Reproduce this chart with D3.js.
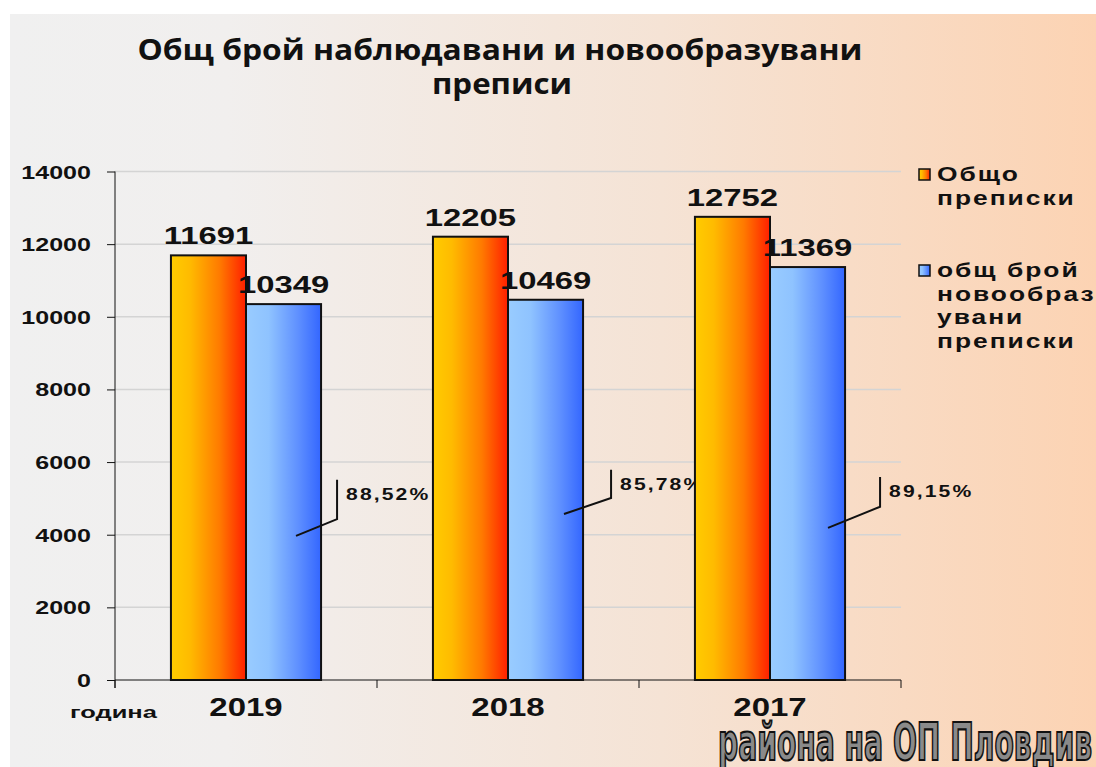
<!DOCTYPE html>
<html>
<head>
<meta charset="utf-8">
<script src="https://cdn.jsdelivr.net/npm/d3@7"></script>
<style>
  body { margin: 0; background: #fff; }
  svg { display: block; }
  text { font-family: "Liberation Sans", Arial, sans-serif; font-weight: bold; fill: #111; }
</style>
</head>
<body>
<svg width="1096" height="767"></svg>
<script>
// chart data
var years = ["2019", "2018", "2017"];
var seriesNames = ["Общо преписки", "общ брой новообразувани преписки"];
var totalFiles = [11691, 12205, 12752];
var newFiles = [10349, 10469, 11369];
var shares = ["88,52%", "85,78%", "89,15%"];
var yTicks = [0, 2000, 4000, 6000, 8000, 10000, 12000, 14000];

// callout placement (x offsets from the blue bar, y in value units)
var callout = [
    { sx: 50, sy: 3970, ex: 16, ey: 4430, ty: 5510, by: 4960 },
    { sx: 56, sy: 4570, ex: 28, ey: 5010, ty: 5790, by: 5230 },
    { sx: 58, sy: 4190, ex: 35, ey: 4770, ty: 5590, by: 5040 }
];

var svg = d3.select("svg");
var defs = svg.append("defs");
var stretch = 1.32; // the original text is drawn wide

function grad(id, stops) {
    var g = defs.append("linearGradient").attr("id", id)
        .attr("x1", "0%").attr("x2", "100%").attr("y1", "0%").attr("y2", "0%");
    stops.forEach(function (s) {
        g.append("stop").attr("offset", s[0]).attr("stop-color", s[1]);
    });
}
grad("bg", [["0%", "#f0f0f0"], ["20%", "#f1efee"], ["60%", "#f5e3d5"], ["100%", "#fcd3b3"]]);
grad("orange", [["0%", "#ffcc00"], ["25%", "#ffbb00"], ["65%", "#ff7a00"], ["100%", "#ff1f00"]]);
grad("blue", [["0%", "#99ccff"], ["30%", "#8fc3ff"], ["70%", "#5e8fff"], ["100%", "#3366ff"]]);

// wide text helper
function wtext(g, x, y, str, size, anchor, sx) {
    return g.append("text")
        .attr("transform", "translate(" + x + "," + y + ") scale(" + (sx || stretch) + ",1)")
        .attr("text-anchor", anchor || "start")
        .style("font-size", size + "px")
        .text(str);
}

svg.append("rect")
    .attr("x", 10).attr("y", 14)
    .attr("width", 1086).attr("height", 753)
    .attr("fill", "url(#bg)");

// title
svg.append("text")
    .attr("x", 500).attr("y", 60)
    .attr("text-anchor", "middle")
    .attr("textLength", 725).attr("lengthAdjust", "spacingAndGlyphs")
    .style("font-family", "'Open Sans', 'Noto Sans', sans-serif")
    .style("font-size", "29px")
    .text("Общ брой наблюдавани  и новообразувани");
svg.append("text")
    .attr("x", 502).attr("y", 94)
    .attr("text-anchor", "middle")
    .attr("textLength", 140).attr("lengthAdjust", "spacingAndGlyphs")
    .style("font-family", "'Open Sans', 'Noto Sans', sans-serif")
    .style("font-size", "29px")
    .text("преписи");

// scales
var plotL = 115, plotR = 901, plotT = 171.5, plotB = 680;
var y = d3.scaleLinear().domain([0, 14000]).range([plotB, plotT]);
var x0 = d3.scaleBand().domain(years).range([plotL, plotR])
    .paddingInner(0.427).paddingOuter(0.2135);
var x1 = d3.scaleBand().domain(seriesNames).range([0, x0.bandwidth()]);

var plot = svg.append("g");

// grid lines
plot.selectAll(".grid")
    .data(yTicks.filter(function (d) { return d > 0; }))
    .enter().append("line")
    .attr("x1", plotL).attr("x2", plotR)
    .attr("y1", function (d) { return y(d); })
    .attr("y2", function (d) { return y(d); })
    .attr("stroke", "#d4d4d4")
    .attr("stroke-width", 1.5);

// y axis
var yAxis = d3.axisLeft(y).tickValues(yTicks).tickSize(8).tickFormat("");
var ya = plot.append("g").attr("transform", "translate(" + plotL + ",0)").call(yAxis);
ya.select(".domain").attr("stroke", "#111").attr("d", "M0," + plotT + "V" + (plotB + 8));
ya.selectAll(".tick line").attr("stroke", "#111");
yTicks.forEach(function (t) {
    wtext(plot, 91, y(t) + 7, String(t), 19, "end");
});

// x axis with ticks at band edges
plot.append("line")
    .attr("x1", plotL).attr("x2", plotR)
    .attr("y1", plotB).attr("y2", plotB)
    .attr("stroke", "#111");
d3.range(years.length + 1).forEach(function (i) {
    var xx = plotL + i * x0.step();
    plot.append("line")
        .attr("x1", xx).attr("x2", xx)
        .attr("y1", plotB).attr("y2", plotB + 8)
        .attr("stroke", "#111");
});

// bars
var rows = years.map(function (yr, i) {
    return { year: yr, vals: [totalFiles[i], newFiles[i]], share: shares[i], pos: callout[i] };
});
var fills = ["url(#orange)", "url(#blue)"];

var groups = plot.selectAll(".yr")
    .data(rows)
    .enter().append("g")
    .attr("transform", function (d) { return "translate(" + x0(d.year) + ",0)"; });

groups.selectAll("rect")
    .data(function (d) { return d.vals.map(function (v, j) { return { v: v, s: seriesNames[j], j: j }; }); })
    .enter().append("rect")
    .attr("x", function (d) { return x1(d.s); })
    .attr("y", function (d) { return y(d.v); })
    .attr("width", x1.bandwidth())
    .attr("height", function (d) { return plotB - y(d.v); })
    .attr("fill", function (d) { return fills[d.j]; })
    .attr("stroke", "#111")
    .attr("stroke-width", 2);

groups.each(function (d) {
    var g = d3.select(this);
    d.vals.forEach(function (v, j) {
        wtext(g, x1(seriesNames[j]) + x1.bandwidth() / 2, y(v) - 11, String(v), 24.5, "middle", 1.34);
    });
    // callout
    var bx = x1(seriesNames[1]);
    var bw = x1.bandwidth();
    var p = d.pos;
    g.append("path")
        .attr("d", "M" + (bx + p.sx) + "," + y(p.sy) +
            "L" + (bx + bw + p.ex) + "," + y(p.ey) +
            "L" + (bx + bw + p.ex) + "," + y(p.ty))
        .attr("fill", "none")
        .attr("stroke", "#111")
        .attr("stroke-width", 2);
    g.append("text")
        .attr("transform", "translate(" + (bx + bw + p.ex + 9) + "," + y(p.by) + ") scale(1.32,1)")
        .style("font-size", "16px")
        .style("letter-spacing", "1.6px")
        .text(d.share);
});

// category labels
years.forEach(function (yr) {
    wtext(plot, x0(yr) + x0.bandwidth() / 2, 716, yr, 25, "middle");
});
wtext(plot, 70, 718, "година", 17, "start", 1.5);

// legend
var legend = svg.append("g").attr("transform", "translate(919,168)");
var legendLines = [["Общо", "преписки"], ["общ брой", "новообраз", "увани", "преписки"]];
var legendTop = [0, 96];
legendLines.forEach(function (lines, i) {
    legend.append("rect")
        .attr("x", 0).attr("y", legendTop[i] + 1)
        .attr("width", 11).attr("height", 11)
        .attr("fill", fills[i])
        .attr("stroke", "#111")
        .attr("stroke-width", 1.5);
    lines.forEach(function (ln, k) {
        legend.append("text")
            .attr("transform", "translate(18," + (legendTop[i] + 13 + k * 23.5) + ") scale(1.32,1)")
            .style("font-size", "20px")
            .style("letter-spacing", "1.5px")
            .text(ln);
    });
});

// footer caption
svg.append("text")
    .attr("x", 718).attr("y", 760)
    .attr("textLength", 374).attr("lengthAdjust", "spacingAndGlyphs")
    .style("font-family", "'Liberation Sans Narrow', 'DejaVu Sans Condensed', sans-serif")
    .style("font-size", "51px")
    .style("fill", "#8a8a8a")
    .attr("stroke", "#111")
    .attr("stroke-width", 2.2)
    .text("района на ОП Пловдив");
</script>
</body>
</html>
